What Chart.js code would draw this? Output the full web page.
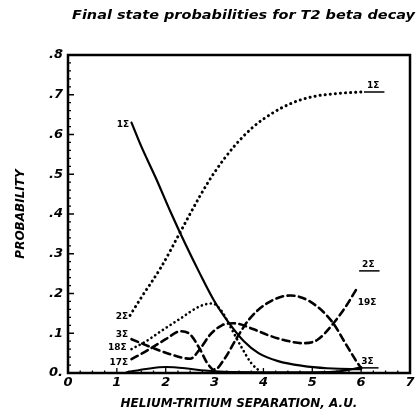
<!DOCTYPE html>
<html>
<head>
<meta charset="utf-8">
<script src="https://cdn.jsdelivr.net/npm/chart.js@4.4.1/dist/chart.umd.min.js"></script>
<style>
  html, body { margin: 0; padding: 0; background: #fff; }
</style>
</head>
<body>
<canvas id="stateChart" width="418" height="417"></canvas>
<script>
// helium-tritium separation (a.u.) and probability
const groundX = [1.3, 1.5, 1.8, 2.1, 2.4, 2.7, 3.0, 3.3, 3.6, 3.9, 4.3, 4.8, 5.3, 5.8, 6.0];
const groundY = [0.63, 0.57, 0.49, 0.405, 0.325, 0.25, 0.18, 0.125, 0.08, 0.05, 0.03, 0.018, 0.012, 0.01, 0.01];

const secondX = [1.27, 1.5, 1.9, 2.3, 2.7, 3.0, 3.4, 3.8, 4.2, 4.6, 5.0, 5.5, 6.0];
const secondY = [0.145, 0.19, 0.265, 0.355, 0.445, 0.505, 0.57, 0.62, 0.655, 0.68, 0.695, 0.703, 0.707];

const s18X = [1.3, 1.6, 1.9, 2.3, 2.7, 2.95, 3.15, 3.35, 3.55, 3.75, 3.95];
const s18Y = [0.06, 0.08, 0.105, 0.137, 0.168, 0.175, 0.155, 0.11, 0.065, 0.025, 0.002];

const thirdX = [1.3, 1.7, 2.1, 2.5, 2.7, 2.9, 3.15, 3.4, 3.8, 4.1, 4.45, 4.8, 5.1, 5.4, 5.7, 5.9];
const thirdY = [0.085, 0.065, 0.047, 0.036, 0.06, 0.095, 0.12, 0.125, 0.11, 0.095, 0.082, 0.075, 0.083, 0.12, 0.17, 0.21];

const s17X = [1.3, 1.6, 2.0, 2.3, 2.5, 2.7, 2.85, 3.0, 3.2, 3.45, 3.72, 4.07, 4.55, 4.95, 5.4, 5.7, 5.9, 6.0];
const s17Y = [0.035, 0.055, 0.085, 0.105, 0.097, 0.06, 0.025, 0.008, 0.035, 0.087, 0.137, 0.175, 0.195, 0.18, 0.13, 0.07, 0.03, 0.012];

const lowX = [1.2, 1.6, 2.0, 2.4, 2.8, 3.2, 4.0, 5.0, 5.6, 5.9, 6.0];
const lowY = [0.002, 0.01, 0.015, 0.012, 0.006, 0.003, 0.002, 0.002, 0.005, 0.012, 0.015];

const xTicks = [0, 1, 2, 3, 4, 5, 6, 7];
const yTicks = [0, 0.1, 0.2, 0.3, 0.4, 0.5, 0.6, 0.7, 0.8];

// curve labels at the left (small separation) and right (large separation)
const leftLabels = ["1Σ", "2Σ", "3Σ", "18Σ", "17Σ"];
const leftLabelX = [1.25, 1.23, 1.23, 1.2, 1.23];
const leftLabelY = [0.625, 0.143, 0.097, 0.065, 0.027];

const rightLabels = ["1Σ", "2Σ", "19Σ", "3Σ"];
const rightLabelX = [6.12, 6.02, 5.93, 6.0];
const rightLabelY = [0.722, 0.272, 0.178, 0.028];
const rightUnderline = [true, true, false, true];

const title = "Final state probabilities for T2 beta decay";

const pts = (xs, ys) => xs.map((v, i) => ({ x: v, y: ys[i] }));

const line = (data, width, dash) => ({
  data: data,
  showLine: true,
  borderColor: "#000",
  backgroundColor: "#000",
  borderWidth: width,
  borderDash: dash,
  borderCapStyle: "round",
  cubicInterpolationMode: "monotone",
  pointRadius: 0,
  fill: false,
});

const tickFont = { family: "DejaVu Sans", size: 13, weight: "bold", style: "italic" };
const titleFont = { family: "DejaVu Sans", size: 12, weight: "bold", style: "italic" };

const decor = {
  id: "decor",
  afterDraw(chart) {
    const { ctx, chartArea: a, scales: { x, y } } = chart;
    ctx.save();
    ctx.strokeStyle = "#000";
    ctx.fillStyle = "#000";

    // frame
    ctx.lineWidth = 2.5;
    ctx.strokeRect(a.left, a.top, a.right - a.left, a.bottom - a.top);

    // little ticks on the inside of the left and bottom axes
    ctx.lineWidth = 1.3;
    ctx.beginPath();
    for (let i = 0; i <= 40; i++) {
      const py = y.getPixelForValue(i * 0.02);
      const len = i % 5 === 0 ? 6 : 3;
      ctx.moveTo(a.left, py);
      ctx.lineTo(a.left + len, py);
    }
    for (let i = 0; i <= 28; i++) {
      const px = x.getPixelForValue(i * 0.25);
      const len = i % 4 === 0 ? 5 : 2.5;
      ctx.moveTo(px, a.bottom);
      ctx.lineTo(px, a.bottom - len);
    }
    ctx.stroke();

    // curve labels
    ctx.font = "bold 9px 'DejaVu Sans'";
    ctx.textBaseline = "middle";
    ctx.textAlign = "right";
    leftLabels.forEach((t, i) => {
      ctx.fillText(t, x.getPixelForValue(leftLabelX[i]), y.getPixelForValue(leftLabelY[i]));
    });
    ctx.textAlign = "left";
    ctx.lineWidth = 1.5;
    rightLabels.forEach((t, i) => {
      const px = x.getPixelForValue(rightLabelX[i]);
      const py = y.getPixelForValue(rightLabelY[i]);
      ctx.fillText(t, px, py);
      if (rightUnderline[i]) {
        const w = ctx.measureText(t).width;
        ctx.beginPath();
        ctx.moveTo(px - 3, py + 6);
        ctx.lineTo(px + w + 5, py + 6);
        ctx.stroke();
      }
    });

    // title across the top
    ctx.font = "bold italic 12px 'DejaVu Sans'";
    ctx.textBaseline = "middle";
    const w = ctx.measureText(title).width;
    ctx.translate(72, 16);
    ctx.scale(343 / w, 1);
    ctx.fillText(title, 0, 0);
    ctx.restore();
  },
};

new Chart(document.getElementById("stateChart"), {
  type: "scatter",

  data: {
    datasets: [
      line(pts(groundX, groundY), 2.2, []),
      line(pts(secondX, secondY), 3, [0.1, 5]),
      line(pts(s18X, s18Y), 2.6, [0.1, 4.5]),
      line(pts(thirdX, thirdY), 2.6, [7, 4.5]),
      line(pts(s17X, s17Y), 2.6, [7, 4.5]),
      line(pts(lowX, lowY), 2, []),
    ],
  },

  options: {
    responsive: false,
    animation: false,
    layout: { padding: { top: 55, right: 8, left: 14, bottom: 2 } },

    plugins: {
      legend: { display: false },
      tooltip: { enabled: false },
    },

    scales: {
      x: {
        type: "linear",
        min: 0,
        max: 7,
        afterBuildTicks: (s) => { s.ticks = xTicks.map((v) => ({ value: v })); },
        ticks: { color: "#000", font: tickFont, padding: 2 },
        grid: { display: false, drawTicks: false, tickLength: 0 },
        border: { display: false },
        title: {
          display: true,
          text: "HELIUM-TRITIUM SEPARATION, A.U.",
          color: "#000",
          font: titleFont,
          padding: { top: 6 },
        },
        afterFit: (s) => { s.height = 42; },
      },

      y: {
        min: 0,
        max: 0.8,
        afterBuildTicks: (s) => { s.ticks = yTicks.map((v) => ({ value: v })); },
        ticks: {
          color: "#000",
          font: tickFont,
          padding: 5,
          callback: (v) => (v === 0 ? "0." : "." + Math.round(v * 10)),
        },
        grid: { display: false, drawTicks: false, tickLength: 0 },
        border: { display: false },
        title: {
          display: true,
          text: "PROBABILITY",
          color: "#000",
          font: titleFont,
          padding: 0,
        },
        afterFit: (s) => { s.width = 54; },
      },
    },
  },

  plugins: [decor],
});
</script>
</body>
</html>
